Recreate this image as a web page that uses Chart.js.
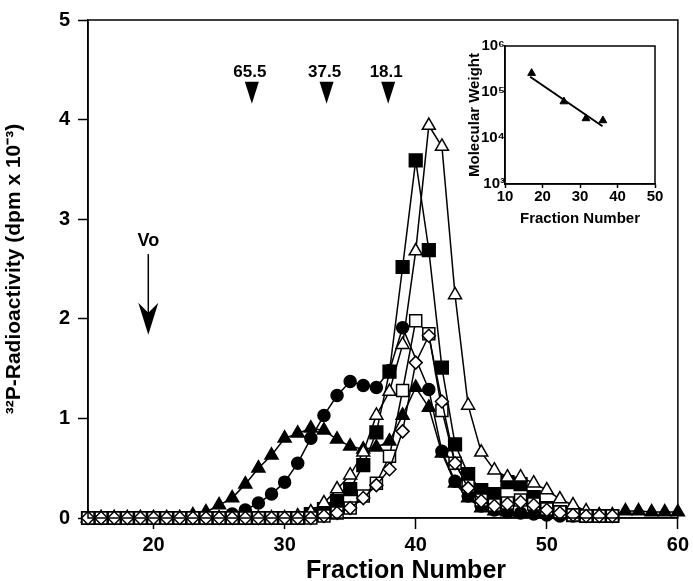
<!DOCTYPE html>
<html>
<head>
<meta charset="utf-8">
<script src="https://cdn.jsdelivr.net/npm/chart.js@4.4.1/dist/chart.umd.min.js"></script>
<style>
  html, body { margin: 0; padding: 0; background: #fff; }
  #wrap { position: relative; width: 693px; height: 581px; }
  #main { position: absolute; left: 0; top: 0; }
  #inset { position: absolute; left: 462px; top: 30px; }
</style>
</head>
<body>
<div id="wrap">
  <canvas id="main" width="693" height="581"></canvas>
  <canvas id="inset" width="220" height="200"></canvas>
</div>
<script>
// fractions 15..60
const fractions = [15,16,17,18,19,20,21,22,23,24,25,26,27,28,29,30,31,32,33,34,35,36,37,38,39,40,
                   41,42,43,44,45,46,47,48,49,50,51,52,53,54,55,56,57,58,59,60];

// dpm x 10^-3
const filledTriangle = [0,0,0,0,0,0,0,0,0.03,0.06,0.13,0.20,0.34,0.50,0.63,0.80,0.85,0.90,0.88,0.79,0.72,0.69,0.71,0.77,1.03,1.31,
                        1.11,0.65,0.35,0.20,0.10,0.07,0.06,0.05,0.05,0.04,0.04,0.03,0.03,0.02,0.03,0.07,0.07,0.06,0.06,0.06];
const filledCircle   = [0,0,0,0,0,0,0,0,0,0,0,0.04,0.08,0.15,0.24,0.36,0.55,0.80,1.03,1.23,1.37,1.33,1.31,1.48,1.91,null,
                        1.29,0.67,0.37,0.22,0.12,0.08,0.06,0.05,0.04,0.03,0.02,0.02,0.02,0.02,0.02,null,null,null,null,null];
const filledSquare   = [0,0,0,0,0,0,0,0,0,0,0,0,0,0,0,0,0,0.04,0.09,0.17,0.29,0.53,0.86,1.47,2.52,3.59,
                        2.69,1.51,0.74,0.44,0.28,0.24,0.36,0.34,0.21,0.10,0.06,0.03,0.02,0.02,0.02,null,null,null,null,null];
const openTriangle   = [0,0,0,0,0,0,0,0,0,0,0,0,0,0,0,0,0.02,0.06,0.15,0.29,0.43,0.66,1.03,1.27,1.74,2.68,
                        3.94,3.73,2.24,1.13,0.66,0.48,0.41,0.41,0.35,0.28,0.19,0.13,0.07,0.03,0.02,null,null,null,null,null];
const openSquare     = [0,0,0,0,0,0,0,0,0,0,0,0,0,0,0,0,0,0,0.02,0.05,0.10,0.22,0.35,0.62,1.28,1.98,
                        1.85,1.08,0.55,0.32,0.18,0.13,0.15,0.18,0.14,0.09,0.06,0.03,0.02,0.02,0.02,null,null,null,null,null];
const openDiamond    = [0,0,0,0,0,0,0,0,0,0,0,0,0,0,0,0,0,0,0.02,0.05,0.10,0.20,0.33,0.49,0.87,1.56,
                        1.83,1.17,0.55,0.30,0.17,0.12,0.14,0.16,0.13,0.08,0.05,0.03,0.02,0.02,0.02,null,null,null,null,null];

const xTickValues = [20, 30, 40, 50, 60];
const yTickValues = [0, 1, 2, 3, 4, 5];

// size markers (kDa) and void volume
const mwLabels = ['65.5', '37.5', '18.1'];
const mwFractions = [27.5, 33.2, 37.9];
const voFraction = 19.6;

// inset: calibration
const insetFraction = [17.1, 25.7, 31.6, 36.1];
const insetWeight = [257000, 62000, 26600, 24000];
const fitFraction = [16.7, 36.0];
const fitWeight = [215000, 18000];
const insetXTicks = [10, 20, 30, 40, 50];
const insetYTicks = [1e3, 1e4, 1e5, 1e6];

const FONT = '"Liberation Sans", Arial, Helvetica, sans-serif';
Chart.defaults.font.family = FONT;
Chart.defaults.color = '#000';

function zip(xs, ys) {
  return xs.map((x, i) => ({ x: x, y: ys[i] }));
}

function series(values, style, fill, radius) {
  return {
    data: zip(fractions, values),
    borderColor: '#000',
    borderWidth: 1.5,
    pointStyle: style,
    pointRadius: radius,
    pointBackgroundColor: fill,
    pointBorderColor: '#000',
    pointBorderWidth: 1.5,
    spanGaps: true,
    clip: false,
    tension: 0
  };
}

const boxPlugin = {
  id: 'box',
  afterDraw(chart) {
    const { ctx, chartArea: a } = chart;
    ctx.save();
    ctx.strokeStyle = '#000';
    ctx.lineWidth = 1.5;
    ctx.strokeRect(a.left, a.top, a.right - a.left, a.bottom - a.top);
    ctx.restore();
  }
};

const markerPlugin = {
  id: 'markers',
  afterDraw(chart) {
    const { ctx } = chart;
    const x = chart.scales.x, y = chart.scales.y;
    ctx.save();
    ctx.fillStyle = '#000';
    ctx.strokeStyle = '#000';
    ctx.textAlign = 'center';
    ctx.textBaseline = 'middle';
    ctx.font = 'bold 17px ' + FONT;
    mwFractions.forEach((f, i) => {
      const px = x.getPixelForValue(f);
      ctx.fillText(mwLabels[i], px - 2, y.getPixelForValue(4.47));
      const top = y.getPixelForValue(4.38);
      const tip = y.getPixelForValue(4.16);
      ctx.beginPath();
      ctx.moveTo(px - 7, top);
      ctx.lineTo(px + 7, top);
      ctx.lineTo(px, tip);
      ctx.closePath();
      ctx.fill();
    });

    // Vo arrow
    const vx = x.getPixelForValue(voFraction);
    ctx.font = 'bold 18px ' + FONT;
    ctx.fillText('Vo', vx, y.getPixelForValue(2.78));
    const lineTop = y.getPixelForValue(2.65);
    const tip = y.getPixelForValue(1.84);
    ctx.lineWidth = 1.5;
    ctx.beginPath();
    ctx.moveTo(vx, lineTop);
    ctx.lineTo(vx, tip - 10);
    ctx.stroke();
    ctx.beginPath();
    ctx.moveTo(vx, tip);
    ctx.lineTo(vx - 10, tip - 32);
    ctx.lineTo(vx, tip - 22);
    ctx.lineTo(vx + 10, tip - 32);
    ctx.closePath();
    ctx.fill();

    // x axis title, sits a little right of centre in the original
    ctx.font = 'bold 25px ' + FONT;
    ctx.fillText('Fraction Number', 406, 571);
    ctx.restore();
  }
};

new Chart(document.getElementById('main'), {
  type: 'line',
  data: {
    datasets: [
      series(openDiamond, 'rectRot', '#fff', 6.5),
      series(openSquare, 'rect', '#fff', 8.5),
      series(openTriangle, 'triangle', '#fff', 7.5),
      series(filledSquare, 'rect', '#000', 9),
      series(filledCircle, 'circle', '#000', 6),
      series(filledTriangle, 'triangle', '#000', 7.5)
    ]
  },
  options: {
    responsive: false,
    animation: false,
    layout: { padding: { left: 0, right: 7, top: 12, bottom: 0 } },
    plugins: { legend: { display: false }, tooltip: { enabled: false } },
    scales: {
      x: {
        type: 'linear',
        min: 15,
        max: 60,
        afterBuildTicks: s => { s.ticks = xTickValues.map(v => ({ value: v })); },
        afterFit: s => { s.height = 63; },
        grid: { drawOnChartArea: false, drawTicks: true, tickLength: 11, tickColor: '#000', tickWidth: 1.5 },
        border: { display: true, color: '#000', width: 1.5 },
        ticks: { color: '#000', font: { size: 20, weight: 'bold' }, padding: 4, maxRotation: 0 },
        title: { display: false }
      },
      y: {
        min: 0,
        max: 5,
        afterBuildTicks: s => { s.ticks = yTickValues.map(v => ({ value: v })); },
        afterFit: s => { s.width = 88; },
        grid: { drawOnChartArea: false, drawTicks: true, tickLength: 10, tickColor: '#000', tickWidth: 1.5 },
        border: { display: true, color: '#000', width: 1.5 },
        ticks: { color: '#000', font: { size: 20, weight: 'bold' }, padding: 8 },
        title: { display: true, text: '\u00B3\u00B2P-Radioactivity (dpm x 10\u207B\u00B3)', color: '#000',
                 font: { size: 21, weight: 'bold' }, padding: { top: 2, bottom: 0 } }
      }
    }
  },
  plugins: [boxPlugin, markerPlugin]
});

const supers = { '3': '\u00B3', '4': '\u2074', '5': '\u2075', '6': '\u2076' };

new Chart(document.getElementById('inset'), {
  type: 'scatter',
  data: {
    datasets: [
      {
        data: zip(insetFraction, insetWeight),
        pointStyle: 'triangle',
        pointRadius: 4.5,
        pointBackgroundColor: '#000',
        pointBorderColor: '#000',
        pointBorderWidth: 1,
        showLine: false,
        clip: false
      },
      {
        data: zip(fitFraction, fitWeight),
        showLine: true,
        borderColor: '#000',
        borderWidth: 2,
        pointRadius: 0,
        clip: false
      }
    ]
  },
  options: {
    responsive: false,
    animation: false,
    layout: { padding: { left: 0, right: 27, top: 16, bottom: 0 } },
    plugins: { legend: { display: false }, tooltip: { enabled: false } },
    scales: {
      x: {
        type: 'linear',
        min: 10,
        max: 50,
        afterBuildTicks: s => { s.ticks = insetXTicks.map(v => ({ value: v })); },
        afterFit: s => { s.height = 46; },
        grid: { drawOnChartArea: false, drawTicks: true, tickLength: 4, tickColor: '#000', tickWidth: 1.5 },
        border: { display: true, color: '#000', width: 1.5 },
        ticks: { color: '#000', font: { size: 15, weight: 'bold' }, padding: 0, maxRotation: 0 },
        title: { display: true, text: 'Fraction Number', color: '#000',
                 font: { size: 15, weight: 'bold' }, padding: { top: 0, bottom: 2 } }
      },
      y: {
        type: 'logarithmic',
        min: 1e3,
        max: 1e6,
        afterBuildTicks: s => { s.ticks = insetYTicks.map(v => ({ value: v })); },
        afterFit: s => { s.width = 43; },
        grid: { drawOnChartArea: false, drawTicks: false },
        border: { display: true, color: '#000', width: 1.5 },
        ticks: {
          color: '#000', font: { size: 15, weight: 'bold' }, padding: 0,
          callback: v => '10' + supers[String(Math.round(Math.log10(v)))]
        },
        title: { display: true, text: 'Molecular Weight', color: '#000',
                 font: { size: 15, weight: 'bold' }, padding: { top: 4, bottom: 0 } }
      }
    }
  },
  plugins: [boxPlugin]
});
</script>
</body>
</html>
